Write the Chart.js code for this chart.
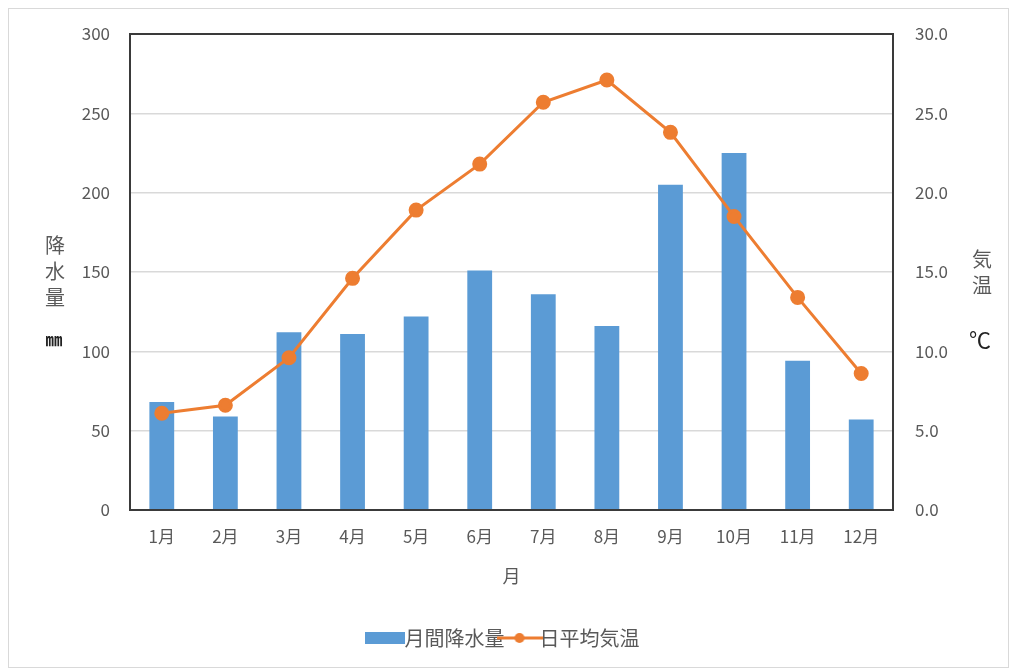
<!DOCTYPE html>
<html>
<head>
<meta charset="utf-8">
<script src="https://cdn.jsdelivr.net/npm/chart.js@4/dist/chart.umd.min.js"></script>
<style>
	html, body { margin: 0; padding: 0; background: #fff; }
	#wrap { position: relative; width: 1014px; height: 670px; }
</style>
</head>
<body>
<div id="wrap"><canvas id="climateChart"></canvas></div>
<script>
var months = ['1月', '2月', '3月', '4月', '5月', '6月', '7月', '8月', '9月', '10月', '11月', '12月'];
var rainfall = [68, 59, 112, 111, 122, 151, 136, 116, 205, 225, 94, 57];
var temperature = [6.1, 6.6, 9.6, 14.6, 18.9, 21.8, 25.7, 27.1, 23.8, 18.5, 13.4, 8.6];
var rainTicks = [0, 50, 100, 150, 200, 250, 300];
var tempTicks = [0, 5, 10, 15, 20, 25, 30];

var jpFont = "'Noto Sans CJK JP', 'Noto Sans', sans-serif";
var grey = '#595959';

// legend icons
function barIcon() {
	var c = document.createElement('canvas');
	c.width = 40; c.height = 14;
	var g = c.getContext('2d');
	g.fillStyle = '#5B9BD5';
	g.fillRect(0, 1, 40, 12);
	return c;
}
function lineIcon() {
	var c = document.createElement('canvas');
	c.width = 46; c.height = 14;
	var g = c.getContext('2d');
	g.strokeStyle = '#ED7D31';
	g.lineWidth = 3;
	g.beginPath(); g.moveTo(0, 7); g.lineTo(46, 7); g.stroke();
	g.fillStyle = '#ED7D31';
	g.beginPath(); g.arc(23, 7, 5, 0, Math.PI * 2); g.fill();
	return c;
}
var icons = { '月間降水量': barIcon(), '日平均気温': lineIcon() };

var framePlugin = {
	id: 'frame',
	beforeDraw: function (chart) {
		var ctx = chart.ctx;
		ctx.save();
		ctx.strokeStyle = '#d9d9d9';
		ctx.lineWidth = 1;
		ctx.strokeRect(8.5, 8.5, 1000, 659);
		ctx.restore();
	},
	afterDraw: function (chart) {
		var ctx = chart.ctx, a = chart.chartArea;
		ctx.save();
		ctx.strokeStyle = '#3a3a3a';
		ctx.lineWidth = 2;
		ctx.strokeRect(a.left, a.top, a.right - a.left, a.bottom - a.top);

		// vertical axis titles
		ctx.textAlign = 'center';
		ctx.textBaseline = 'middle';
		ctx.fillStyle = grey;
		ctx.font = '20px ' + jpFont;
		['降', '水', '量'].forEach(function (ch, i) {
			ctx.fillText(ch, 55, 245 + i * 26);
		});
		['気', '温'].forEach(function (ch, i) {
			ctx.fillText(ch, 982, 259 + i * 26);
		});
		ctx.fillStyle = '#222';
		ctx.font = 'bold 17px ' + jpFont;
		ctx.fillText('㎜', 54, 340);
		ctx.font = '22px ' + jpFont;
		ctx.fillText('℃', 980, 340);
		ctx.restore();
	}
};

window.onload = function () {
	var ctx = document.getElementById('climateChart').getContext('2d');
	climateChart = new Chart(ctx, {
		data: {
			labels: months,
			datasets: [{
				type: 'line',
				label: '日平均気温',
				data: temperature,
				yAxisID: 'y1',
				borderColor: '#ED7D31',
				backgroundColor: '#ED7D31',
				borderWidth: 3,
				pointRadius: 6,
				pointHoverRadius: 6,
				pointStyle: 'circle',
				tension: 0,
				order: 0
			}, {
				type: 'bar',
				label: '月間降水量',
				data: rainfall,
				yAxisID: 'y',
				backgroundColor: '#5B9BD5',
				barPercentage: 0.39,
				categoryPercentage: 1,
				order: 1
			}]
		},
		options: {
			responsive: true,
			maintainAspectRatio: false,
			animation: false,
			layout: { padding: { top: 34, bottom: 12 } },
			plugins: {
				tooltip: { enabled: false },
				legend: {
					position: 'bottom',
					reverse: true,
					labels: {
						usePointStyle: true,
						color: grey,
						padding: 5,
						font: { size: 20, family: jpFont },
						generateLabels: function (chart) {
							var items = Chart.defaults.plugins.legend.labels.generateLabels(chart);
							items.forEach(function (it) { it.pointStyle = icons[it.text]; });
							return items;
						}
					}
				}
			},
			scales: {
				x: {
					grid: { display: false, drawTicks: false },
					border: { display: false },
					ticks: { color: grey, padding: 16, font: { size: 17, family: jpFont } },
					title: { display: true, text: '月', color: grey, padding: { top: 8, bottom: 36 }, font: { size: 18, family: jpFont } },
					afterFit: function (s) { s.height = 113; }
				},
				y: {
					position: 'left',
					min: 0, max: 300,
					afterBuildTicks: function (s) { s.ticks = rainTicks.map(function (v) { return { value: v }; }); },
					grid: { color: '#d9d9d9', lineWidth: 1.5, drawTicks: false },
					border: { display: false },
					ticks: { color: grey, padding: 20, font: { size: 17, family: jpFont } },
					afterFit: function (s) { s.width = 130; }
				},
				y1: {
					position: 'right',
					min: 0, max: 30,
					afterBuildTicks: function (s) { s.ticks = tempTicks.map(function (v) { return { value: v }; }); },
					grid: { display: false, drawTicks: false },
					border: { display: false },
					ticks: {
						color: grey, padding: 22, font: { size: 17, family: jpFont },
						callback: function (v) { return Number(v).toFixed(1); }
					},
					afterFit: function (s) { s.width = 121; }
				}
			}
		},
		plugins: [framePlugin]
	});
};
</script>
</body>
</html>
